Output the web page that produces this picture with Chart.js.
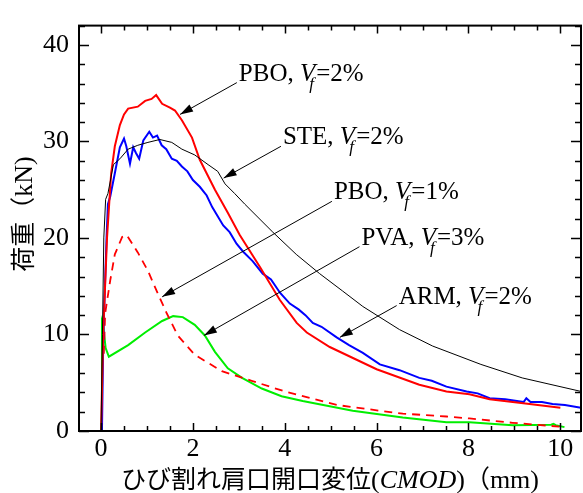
<!DOCTYPE html>
<html>
<head>
<meta charset="utf-8">
<script src="https://cdn.jsdelivr.net/npm/chart.js@4.4.0/dist/chart.umd.min.js"></script>
<style>
  html, body { margin: 0; padding: 0; background: #fff; }
</style>
</head>
<body>
<canvas id="chart" width="583" height="493"></canvas>
<script>
// values
const pbo2X = [0, 0.02, 0.05, 0.13, 0.22, 0.3, 0.41, 0.5, 0.59, 0.8, 0.96, 1.1, 1.2, 1.33, 1.5, 1.61, 1.76, 1.98, 2.15, 2.48, 2.76, 3.02, 3.46, 3.89, 4.26, 4.48, 4.98, 6.0, 6.93, 7.52, 8.02, 8.46, 9.33, 10.0];
const pbo2Y = [0, 0, 10.5, 20, 26.7, 29.5, 31.7, 32.8, 33.4, 33.6, 34.2, 34.4, 34.8, 33.9, 33.5, 33.2, 32.2, 30.4, 28.1, 25.0, 22.6, 20.3, 17.0, 13.6, 11.2, 10.2, 8.7, 6.4, 4.8, 4.1, 3.8, 3.3, 2.8, 2.4];

const steX = [0, 0.03, 0.06, 0.1, 0.15, 0.27, 0.41, 0.59, 0.8, 1.02, 1.28, 1.54, 1.76, 2.04, 2.33, 2.54, 2.7, 2.91, 3.13, 3.74, 4.25, 4.76, 5.26, 5.7, 6.5, 7.22, 8.27, 9.17, 10.45];
const steY = [0, 10, 20, 24, 24.6, 27.6, 28.2, 29.2, 29.6, 29.9, 30.2, 29.9, 29.2, 28.6, 27.6, 26.9, 25.6, 24.6, 23.5, 20.6, 18.3, 16.3, 14.5, 12.9, 10.5, 8.8, 6.9, 5.5, 4.1];

const armX = [0.02, 0.05, 0.12, 0.15, 0.2, 0.3, 0.41, 0.5, 0.55, 0.63, 0.7, 0.76, 0.83, 0.92, 1.05, 1.13, 1.22, 1.32, 1.42, 1.54, 1.65, 1.76, 1.88, 2.0, 2.15, 2.3, 2.42, 2.66, 2.8, 2.95, 3.09, 3.3, 3.52, 3.7, 3.9, 4.11, 4.3, 4.45, 4.61, 4.8, 5.13, 5.4, 5.7, 6.07, 6.5, 6.93, 7.2, 7.52, 7.96, 8.2, 8.46, 8.8, 9.2, 9.26, 9.35, 9.6, 9.83, 10.1, 10.45];
const armY = [0, 10, 20, 23.5, 24.3, 26.7, 29.4, 30.3, 29.5, 27.7, 29.4, 28.8, 28.2, 30.1, 31.0, 30.4, 30.6, 29.6, 29.2, 28.2, 28.0, 27.4, 26.9, 26.0, 25.3, 24.4, 23.2, 21.3, 20.6, 19.4, 18.6, 17.6, 16.3, 15.7, 14.3, 13.2, 12.6, 12.0, 11.2, 10.8, 9.7, 8.9, 8.1, 6.9, 6.3, 5.5, 5.2, 4.6, 4.1, 3.9, 3.4, 3.3, 3.0, 3.4, 3.0, 3.0, 2.8, 2.7, 2.4];

const pbo1X = [0.06, 0.09, 0.2, 0.3, 0.46, 0.56, 0.8, 1.02, 1.24, 1.43, 1.67, 2.04, 2.63, 3.28, 3.67, 4.0, 5.13, 6.07, 6.57, 7.52, 8.02, 8.96, 9.98];
const pbo1Y = [8, 12.2, 15.6, 18.3, 20.1, 20.3, 18.5, 16.6, 14.2, 12.2, 9.9, 7.9, 6.2, 5.2, 4.6, 4.1, 2.7, 2.1, 1.8, 1.5, 1.3, 0.85, 0.45];

const pvaX = [0, 0.02, 0.05, 0.1, 0.17, 0.59, 0.96, 1.33, 1.57, 1.78, 2.04, 2.26, 2.48, 2.76, 3.07, 3.5, 3.93, 4.39, 5.48, 6.57, 7.52, 8.02, 8.96, 9.8, 9.85, 9.9, 10.09];
const pvaY = [0, 11.3, 10.8, 8.6, 7.7, 8.9, 10.2, 11.4, 11.9, 11.8, 11.0, 9.9, 8.2, 6.5, 5.5, 4.4, 3.6, 3.1, 2.1, 1.4, 0.9, 0.9, 0.6, 0.65, 0.75, 0.6, 0.4];

const xTicks = [0, 2, 4, 6, 8, 10];
const yTicks = [0, 10, 20, 30, 40];

// callout labels: text anchor and arrow tip, in data units
const callouts = [
    { name: 'PBO', vf: '2%', tx: 3.0, ty: 36.3, ax: 1.72, ay: 32.8 },
    { name: 'STE', vf: '2%', tx: 3.96, ty: 29.7, ax: 2.67, ay: 26.2 },
    { name: 'PBO', vf: '1%', tx: 5.07, ty: 24.0, ax: 1.33, ay: 13.9 },
    { name: 'PVA', vf: '3%', tx: 5.67, ty: 19.3, ax: 2.24, ay: 9.9 },
    { name: 'ARM', vf: '2%', tx: 6.48, ty: 13.2, ax: 5.2, ay: 9.7 }
];

const serif = '"Liberation Serif", "Times New Roman", serif';
const cjk = '"Noto Sans CJK JP", sans-serif';

function zip(xs, ys) {
    return xs.map((x, i) => ({ x: x, y: ys[i] }));
}

function drawParts(ctx, parts, x, y, center) {
    let total = 0;
    parts.forEach(p => { ctx.font = p[1]; total += ctx.measureText(p[0]).width; });
    let cx = center ? x - total / 2 : x;
    parts.forEach(p => {
        ctx.font = p[1];
        ctx.fillText(p[0], cx, y);
        cx += ctx.measureText(p[0]).width;
    });
}

function drawCallout(ctx, c, xs, ys) {
    const x = xs.getPixelForValue(c.tx);
    const y = ys.getPixelForValue(c.ty);
    const tipX = xs.getPixelForValue(c.ax);
    const tipY = ys.getPixelForValue(c.ay);

    // leader line + arrow head
    const sx = x - 2, sy = y + 2;
    ctx.strokeStyle = '#000';
    ctx.lineWidth = 1;
    ctx.beginPath();
    ctx.moveTo(sx, sy);
    ctx.lineTo(tipX, tipY);
    ctx.stroke();
    const ang = Math.atan2(tipY - sy, tipX - sx);
    const len = 13, half = 4;
    ctx.fillStyle = '#000';
    ctx.beginPath();
    ctx.moveTo(tipX, tipY);
    ctx.lineTo(tipX - len * Math.cos(ang) + half * Math.sin(ang), tipY - len * Math.sin(ang) - half * Math.cos(ang));
    ctx.lineTo(tipX - len * Math.cos(ang) - half * Math.sin(ang), tipY - len * Math.sin(ang) + half * Math.cos(ang));
    ctx.closePath();
    ctx.fill();

    // label text: NAME, V_f=xx%
    ctx.textAlign = 'left';
    ctx.textBaseline = 'alphabetic';
    ctx.font = '25px ' + serif;
    ctx.fillText(c.name + ', ', x, y);
    let cx = x + ctx.measureText(c.name + ', ').width;
    ctx.font = 'italic 25px ' + serif;
    ctx.fillText('V', cx, y);
    const vw = ctx.measureText('V').width;
    ctx.font = 'italic 17px ' + serif;
    ctx.fillText('f', cx + vw - 6, y + 8);
    ctx.font = '25px ' + serif;
    ctx.fillText('=' + c.vf, cx + vw + 1, y);
}

const framePlugin = {
    id: 'frame',
    afterDraw(chart) {
        const ctx = chart.ctx;
        const a = chart.chartArea;
        const xs = chart.scales.x;
        const ys = chart.scales.y;
        ctx.save();

        // inward ticks on all four sides
        ctx.strokeStyle = '#000';
        ctx.lineWidth = 1.5;
        ctx.beginPath();
        for (let v = 0; v <= 10.001; v += 0.5) {
            const px = Math.round(xs.getPixelForValue(v)) + 0.5;
            const L = (Math.abs(v % 2) < 0.001) ? 8 : 5;
            ctx.moveTo(px, a.bottom); ctx.lineTo(px, a.bottom - L);
            ctx.moveTo(px, a.top); ctx.lineTo(px, a.top + L);
        }
        for (let v = 0; v <= 42; v += 2) {
            const py = Math.round(ys.getPixelForValue(v)) + 0.5;
            const L = (v % 10 === 0) ? 10 : 6;
            ctx.moveTo(a.left, py); ctx.lineTo(a.left + L, py);
            ctx.moveTo(a.right, py); ctx.lineTo(a.right - L, py);
        }
        ctx.stroke();

        // frame
        ctx.lineWidth = 2;
        ctx.strokeRect(a.left, a.top, a.right - a.left, a.bottom - a.top);

        // callouts
        callouts.forEach(c => drawCallout(ctx, c, xs, ys));

        // axis titles
        ctx.fillStyle = '#000';
        ctx.textAlign = 'left';
        ctx.textBaseline = 'alphabetic';
        const cxm = (a.left + a.right) / 2;
        drawParts(ctx, [
            ['ひび割れ肩口開口変位', '25px ' + cjk],
            ['(', '26px ' + serif],
            ['CMOD', 'italic 26px ' + serif],
            [')', '26px ' + serif],
            ['（', '25px ' + cjk],
            ['mm)', '26px ' + serif]
        ], cxm, 488, true);

        ctx.translate(32, 214);
        ctx.rotate(-Math.PI / 2);
        drawParts(ctx, [
            ['荷重', '25px ' + cjk],
            ['（', '25px ' + cjk],
            ['kN)', '26px ' + serif]
        ], 0, 0, true);

        ctx.restore();
    }
};

const ctx = document.getElementById('chart').getContext('2d');

new Chart(ctx, {
    type: 'line',
    data: {
        datasets: [
            { label: 'STE, Vf=2%', data: zip(steX, steY), borderColor: '#000000', borderWidth: 1 },
            { label: 'PBO, Vf=2%', data: zip(pbo2X, pbo2Y), borderColor: '#ff0000', borderWidth: 2 },
            { label: 'ARM, Vf=2%', data: zip(armX, armY), borderColor: '#0000ff', borderWidth: 2 },
            { label: 'PBO, Vf=1%', data: zip(pbo1X, pbo1Y), borderColor: '#ff0000', borderWidth: 1.8, borderDash: [8, 6] },
            { label: 'PVA, Vf=3%', data: zip(pvaX, pvaY), borderColor: '#00ee00', borderWidth: 2 }
        ]
    },
    options: {
        responsive: false,
        animation: false,
        layout: { padding: { top: 15, right: 2, left: 0, bottom: 0 } },
        elements: {
            point: { radius: 0 },
            line: { tension: 0, fill: false }
        },
        plugins: {
            legend: { display: false },
            tooltip: { enabled: false }
        },
        scales: {
            x: {
                type: 'linear',
                min: -0.48,
                max: 10.45,
                grid: { display: false, drawTicks: false },
                border: { display: false },
                afterBuildTicks: s => { s.ticks = xTicks.map(v => ({ value: v })); },
                afterFit: s => { s.height = 62; },
                ticks: {
                    color: '#000',
                    padding: 3,
                    maxRotation: 0,
                    font: { family: serif, size: 26 }
                }
            },
            y: {
                min: 0,
                max: 42,
                grid: { display: false, drawTicks: false },
                border: { display: false },
                afterBuildTicks: s => { s.ticks = yTicks.map(v => ({ value: v })); },
                afterFit: s => { s.width = 79; },
                ticks: {
                    color: '#000',
                    padding: 10,
                    font: { family: serif, size: 26 }
                }
            }
        }
    },
    plugins: [framePlugin]
});
</script>
</body>
</html>
